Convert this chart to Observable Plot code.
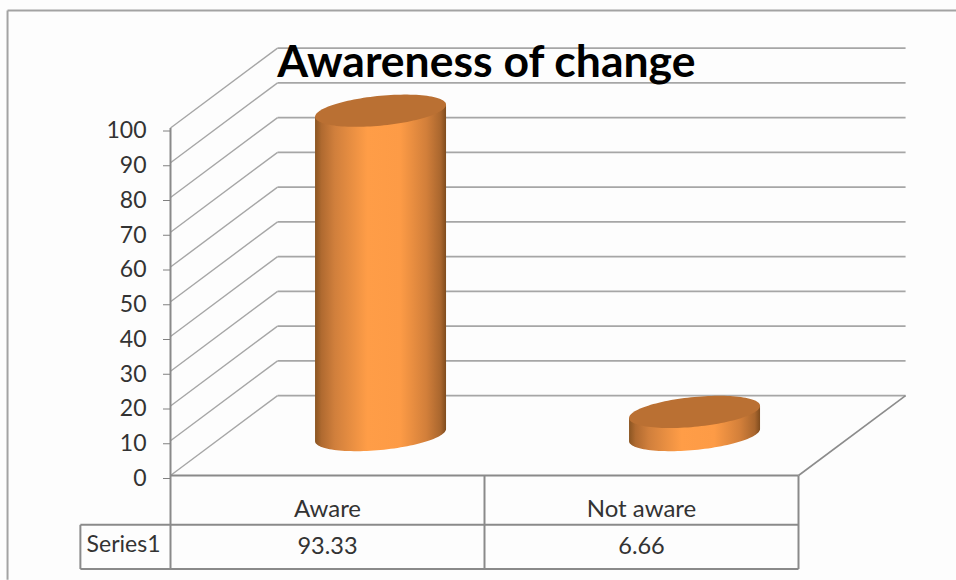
<!DOCTYPE html>
<html>
<head>
<meta charset="utf-8">
<script src="https://cdn.jsdelivr.net/npm/d3@7"></script>
<script src="https://cdn.jsdelivr.net/npm/@observablehq/plot@0.6"></script>
<style>
html,body{margin:0;padding:0;background:#fdfdfd;overflow:hidden}
svg{display:block}
</style>
</head>
<body>
<div id="chart"></div>
<script>
const title = "Awareness of change";
const categories = ["Aware", "Not aware"];
const values = [93.33, 6.66];
const valueLabels = ["93.33", "6.66"];
const seriesName = "Series1";
const yTicks = [0, 10, 20, 30, 40, 50, 60, 70, 80, 90, 100];

// projected depth of the 3D box, in axis units
const depthX = 0.341, depthY = 23;
// cylinder cross-section, in axis units
const radiusX = 0.2086, radiusY = 4.3, tiltY = 1.75;
// data-table rows below the axis, in axis units
const rowHeader = -14.2, rowBottom = -26.9, headerLeft = -0.287;
const frameLeft = -0.519, frameRight = 2.51, frameTop = 133.8, frameBottom = -30;

const angles = d3.range(0, 1.0001, 1 / 60).map(f => f * Math.PI);
const band = categories.map((name, i) => ({name, value: values[i], cx: i + 0.5 + depthX / 2, cy: depthY / 2}));

const outline = band.flatMap(b => angles.map(t => {
  const c = -Math.cos(t), s = Math.sin(t);
  return {
    name: b.name,
    x: b.cx + radiusX * c,
    baseLow: b.cy + tiltY * c - radiusY * s,
    mid: b.cy + b.value + tiltY * c,
    topLow: b.cy + b.value + tiltY * c - radiusY * s,
    topHigh: b.cy + b.value + tiltY * c + radiusY * s
  };
}));

const gridSide = yTicks.map(v => ({x1: 0, y1: v, x2: depthX, y2: v + depthY}));
const gridBack = yTicks.map(v => ({x1: depthX, y1: v + depthY, x2: 2 + depthX, y2: v + depthY}));
const tableLines = [
  {x1: 0, y1: 100, x2: 0, y2: rowBottom},
  {x1: 1, y1: 0, x2: 1, y2: rowBottom},
  {x1: 2, y1: 0, x2: 2, y2: rowBottom},
  {x1: 0, y1: 0, x2: 2, y2: 0},
  {x1: headerLeft, y1: rowHeader, x2: 2, y2: rowHeader},
  {x1: headerLeft, y1: rowBottom, x2: 2, y2: rowBottom},
  {x1: headerLeft, y1: rowHeader, x2: headerLeft, y2: rowBottom}
];
const floorEdge = [{x1: 2, y1: 0, x2: 2 + depthX, y2: depthY}];
const frameLines = [
  {x1: frameLeft, y1: frameTop, x2: frameRight, y2: frameTop},
  {x1: frameLeft, y1: frameTop, x2: frameLeft, y2: frameBottom}
];

const defs = () => {
  const d = d3.create("svg:defs");
  const g = d.append("linearGradient").attr("id", "cyl").attr("x1", 0).attr("x2", 1).attr("y1", 0).attr("y2", 0);
  [[0, "#8a5522"], [0.05, "#b06a30"], [0.15, "#d07f3c"], [0.4, "#ff9d47"], [0.65, "#fd9b46"],
   [0.85, "#d27f3a"], [0.96, "#a9662e"], [1, "#7f4c1e"]]
    .forEach(([o, c]) => g.append("stop").attr("offset", o).attr("stop-color", c));
  return d.node();
};

const linkOpts = (stroke, strokeWidth) => ({x1: "x1", y1: "y1", x2: "x2", y2: "y2", stroke, strokeWidth});

const plot = Plot.plot({
  width: 956,
  height: 580,
  marginLeft: 170,
  marginRight: 158,
  marginTop: 127.5,
  marginBottom: 105,
  x: {domain: [0, 2], axis: null},
  y: {domain: [0, 100], axis: null},
  style: {background: "#fdfdfd", fontFamily: "Lato, 'Open Sans', sans-serif", color: "#333"},
  marks: [
    defs,
    Plot.link(frameLines, linkOpts("#a3a3a3", 2)),
    Plot.link(gridSide, linkOpts("#a6a6a6", 1.4)),
    Plot.link(gridBack, linkOpts("#a6a6a6", 1.8)),
    Plot.link(floorEdge, linkOpts("#8c8c8c", 1.6)),
    Plot.link(tableLines, linkOpts("#8a8a8a", 2)),
    Plot.axisY({
      ticks: yTicks, tickSize: 7, tickPadding: 17, stroke: "#808080", fill: "#333",
      fontSize: 23, dy: 3, label: null, anchor: "left"
    }),
    Plot.areaY(outline, {x: "x", y1: "baseLow", y2: "mid", z: "name", fill: "url(#cyl)", curve: "linear"}),
    Plot.areaY(outline, {x: "x", y1: "topLow", y2: "topHigh", z: "name", fill: "#ba7033", curve: "linear"}),
    Plot.text([title], {
      x: [1.006], y: [118.8], text: d => d, fontSize: 44.5, fontWeight: 700, fill: "#000",
      fontFamily: "Lato, sans-serif", lineAnchor: "middle"
    }),
    Plot.text(categories, {
      x: (d, i) => i + 0.5, y: [-9.7, -9.7], text: d => d, fontSize: 24, fill: "#333", lineAnchor: "middle"
    }),
    Plot.text(valueLabels, {
      x: (d, i) => i + 0.5, y: [-20.4, -20.4], text: d => d, fontSize: 23.5, fill: "#333", lineAnchor: "middle"
    }),
    Plot.text([seriesName], {
      x: [headerLeft / 2 - 0.006], y: [-20], text: d => d, fontSize: 23, fill: "#333", lineAnchor: "middle"
    })
  ]
});
document.getElementById("chart").append(plot);
</script>
</body>
</html>
